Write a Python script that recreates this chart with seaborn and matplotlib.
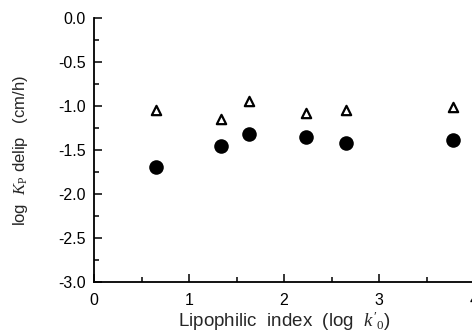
import pandas as pd
import matplotlib.pyplot as plt
import seaborn as sns
from matplotlib.ticker import MultipleLocator

# data
lipo_index = [0.65, 1.34, 1.63, 2.23, 2.65, 3.78]
kp_open = [-1.05, -1.15, -0.94, -1.08, -1.05, -1.01]   # triangles
kp_filled = [-1.69, -1.46, -1.32, -1.35, -1.42, -1.39]  # circles

sns.set_theme(style="ticks")
plt.rcParams["font.family"] = ["Liberation Sans", "DejaVu Sans"]
plt.rcParams["mathtext.fontset"] = "custom"
plt.rcParams["mathtext.it"] = "Liberation Serif:italic"
plt.rcParams["mathtext.rm"] = "Liberation Serif"

df_open = pd.DataFrame({"x": lipo_index, "y": kp_open})
df_filled = pd.DataFrame({"x": lipo_index, "y": kp_filled})

fig = plt.figure(figsize=(4.72, 3.34), dpi=100)
ax = fig.add_axes([94 / 472, 52 / 334, 380 / 472, 264 / 334])

sns.scatterplot(data=df_open, x="x", y="y", ax=ax, marker="^", s=45,
                facecolor="white", edgecolor="black", linewidth=1.6, zorder=3)
sns.scatterplot(data=df_filled, x="x", y="y", ax=ax, marker="o", s=110,
                color="black", edgecolor="black", linewidth=0, zorder=3)

ax.set_xlim(0, 4)
ax.set_ylim(-3.0, 0.0)
ax.xaxis.set_major_locator(MultipleLocator(1))
ax.xaxis.set_minor_locator(MultipleLocator(0.5))
ax.yaxis.set_major_locator(MultipleLocator(0.5))
ax.yaxis.set_minor_locator(MultipleLocator(0.25))
ax.yaxis.set_major_formatter(plt.FuncFormatter(lambda v, p: f"{v:.1f}"))

ax.tick_params(which="both", direction="in", color="black", labelsize=11.5,
               labelcolor="black", width=1.1)
ax.tick_params(which="major", length=6, pad=6)
ax.tick_params(axis="x", which="major", pad=8)
ax.tick_params(which="minor", length=3.5)
for side in ["top", "right"]:
    ax.spines[side].set_visible(False)
for side in ["left", "bottom"]:
    ax.spines[side].set_linewidth(1.3)
    ax.spines[side].set_color("black")

ax.set_xlabel(r"Lipophilic  index  (log  $k'_0$)", fontsize=13.5, labelpad=1)
ax.set_ylabel(r"log  $K_{\rm P}$ delip   (cm/h)", fontsize=12, labelpad=20)

fig.savefig("out.png", dpi=100)
